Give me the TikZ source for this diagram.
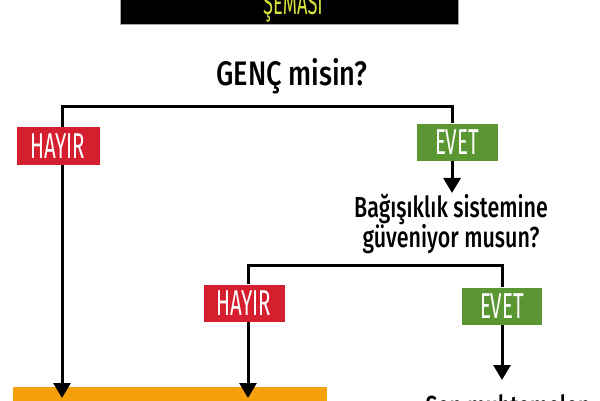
\documentclass[tikz,border=0pt]{standalone}
\usepackage{fontspec}
\usetikzlibrary{arrows.meta}
\newfontfamily\hand[FakeStretch=0.74]{Fira Sans Medium}
\newfontfamily\handq[FakeStretch=0.8]{Fira Sans Medium}
\newfontfamily\handb[FakeStretch=0.57]{Fira Sans}
\definecolor{redbox}{HTML}{D61F2E}
\definecolor{greenbox}{HTML}{5A9632}
\definecolor{orangebox}{HTML}{F6A00C}
\definecolor{banneryellow}{HTML}{D8E040}
\tikzset{
  conn/.style={line width=3pt},
  arr/.style={line width=3pt,-{Triangle[length=15pt,width=17pt]}},
  nobox/.style={fill=redbox,text=white,font=\handb\fontsize{36}{36}\selectfont,minimum width=83pt,minimum height=38pt,inner sep=0pt},
  yesbox/.style={fill=greenbox,text=white,font=\handb\fontsize{36}{36}\selectfont,minimum width=81pt,minimum height=37pt,inner sep=0pt},
  question/.style={font=\hand\fontsize{29}{31}\selectfont,align=center,inner sep=1pt}
}
\begin{document}
\begin{tikzpicture}[x=1pt,y=-1pt]
\useasboundingbox (0,0) rectangle (600,400);
% banner
\node[fill=black,draw=gray!70,line width=1pt,minimum width=338pt,minimum height=36pt,inner sep=0pt,anchor=south west] (banner) at (120,25) {};
\node[text=banneryellow,font=\handb\fontsize{32}{32}\selectfont] (bannertext) at (293,7) {ŞEMASI};
% first question
\node[question,font=\handq\fontsize{34}{34}\selectfont] (q1) at (292,76) {GENÇ misin?};
\coordinate (l1) at (62,106);
\coordinate (r1) at (452,106);
\node[nobox] (no1) at (58,146) {HAYIR};
\node[yesbox] (yes1) at (457,142) {EVET};
\node[question] (q2) at (451,224) {Bağışıklık sistemine\\[-1pt]güveniyor musun?};
\coordinate (l2) at (248,265);
\coordinate (r2) at (502,265);
\node[nobox,minimum width=81pt,minimum height=37pt] (no2) at (244,303) {HAYIR};
\node[yesbox,minimum width=80pt] (yes2) at (502,306) {EVET};
% orange box
\node[fill=orangebox,minimum width=314pt,minimum height=40pt,inner sep=0pt,anchor=north west] (res1) at (13,387) {};
\node[question,anchor=north] (res2) at (508,393) {Sen muhtemelen};
\coordinate (t1) at ([yshift=-11pt]res1.north -| l1);
\coordinate (t2) at ([yshift=-11pt]res1.north -| l2);
\coordinate (t3) at (502,380);
% connectors
\draw[conn,line cap=butt] (l1 |- no1.north) -- (l1) -- (r1) -- (r1 |- yes1.north);
\draw[arr] (yes1.south -| r1) -- (r1 |- q2.north);
\draw[conn] (l2 |- no2.north) -- (l2) -- (r2) -- (r2 |- yes2.north);
\draw[arr] (no1.south -| l1) -- (t1);
\draw[arr] (no2.south -| l2) -- (t2);
\draw[arr] (yes2.south) -- (t3);
\end{tikzpicture}
\end{document}
